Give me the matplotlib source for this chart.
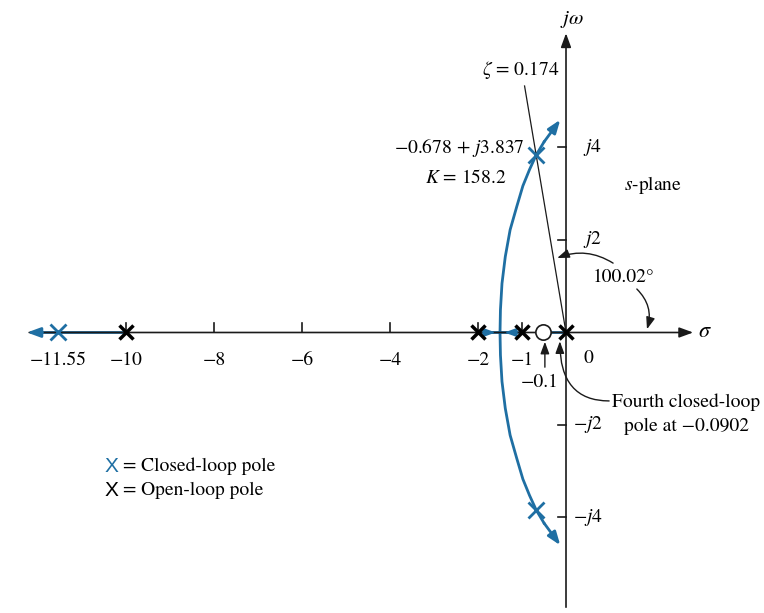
import numpy as np
import matplotlib.pyplot as plt

plt.rcParams['font.family'] = 'STIXGeneral'
plt.rcParams['mathtext.fontset'] = 'stix'
plt.rcParams['font.size'] = 14

BLUE = '#1f6fa3'
INK = '#1a1a1a'

# G(s) = K(s + 0.1) / [s(s + 1)(s + 2)(s + 10)]
open_loop_poles = [-10, -2, -1, 0]
open_loop_zero = -0.1
real_ticks = [-10, -8, -6, -4, -2, -1]
imag_ticks = [4, 2, -2, -4]

closed_loop_real = -11.55
closed_loop_sigma = -0.678
closed_loop_omega = 3.837
fourth_pole = -0.0902
gain = 158.2
zeta = 0.174
zeta_angle = 100.02
breakaway = -1.5

# upper complex branch, from the breakaway point towards the asymptote
branch_sigma = [-1.50, -1.49, -1.455, -1.38, -1.27, -1.12, -0.98, -0.83, -0.678, -0.50, -0.13]
branch_omega = [0.0, 0.49, 1.06, 1.64, 2.22, 2.72, 3.17, 3.52, 3.837, 4.12, 4.60]


def axis_pos(s):
    # widen the span between -1 and 0 so the zero and the pole at 0 do not overlap
    return np.interp(s, [-20, -1, -0.1, 0, 20], [-20, -1, -0.516, 0, 20])


def arrow(ax, tail, head, color=INK, lw=1.1, conn='arc3', head_len=0.6, head_w=0.22, scale=14):
    ax.annotate('', xy=head, xytext=tail,
                arrowprops=dict(arrowstyle=f'-|>,head_length={head_len},head_width={head_w}',
                                color=color, lw=lw, mutation_scale=scale,
                                shrinkA=0, shrinkB=0, connectionstyle=conn))


fig = plt.figure(figsize=(7.64, 6.13), dpi=100)
ax = fig.add_axes([0, 0, 1, 1])
ax.set_xlim(-12.864, 4.5)
ax.set_ylim(-6.065, 7.189)
ax.axis('off')

# s-plane axes
arrow(ax, (-12.2, 0), (2.89, 0), lw=1.2)
arrow(ax, (0, -5.94), (0, 6.47), lw=1.2)

for t in real_ticks:
    ax.plot([t, t], [0, 0.2], color=INK, lw=1.2)
    ax.text(t, -0.6, f'\u2212{abs(t)}', ha='center', va='center')
ax.text(0.5, -0.55, '0', ha='center', va='center')
ax.text(closed_loop_real, -0.6, f'\u2212{abs(closed_loop_real)}', ha='center', va='center')

for w in imag_ticks:
    ax.plot([-0.18, 0], [w, w], color=INK, lw=1.2)
    if w > 0:
        ax.text(0.38, w, f'$j{w}$', ha='left', va='center')
    else:
        ax.text(0.17, w, f'$-j{abs(w)}$', ha='left', va='center')

ax.text(0.14, 6.76, r'$j\omega$', ha='center', va='center', fontsize=15)
ax.text(3.16, 0.0, r'$\sigma$', ha='center', va='center', fontsize=16)
ax.text(1.98, 3.19, r'$s$-plane', ha='center', va='center')

# real-axis segments of the locus
lw_locus = 2.0
ax.plot([-10, -12.0], [0, 0], color=BLUE, lw=lw_locus)
arrow(ax, (-11.9, 0), (-12.25, 0), color=BLUE, lw=lw_locus, scale=13)
ax.plot([-2, -1], [0, 0], color=BLUE, lw=lw_locus)
arrow(ax, (-1.85, 0), (breakaway - 0.1, 0), color=BLUE, lw=1.5, scale=11)
arrow(ax, (-1.15, 0), (breakaway + 0.1, 0), color=BLUE, lw=1.5, scale=11)
ax.plot([axis_pos(open_loop_zero), 0], [0, 0], color=BLUE, lw=lw_locus)

# complex branches (lower one mirrored)
bs = np.array(branch_sigma)
bw = np.array(branch_omega)
for sign in (1, -1):
    ax.plot(bs[:-1], sign * bw[:-1], color=BLUE, lw=lw_locus)
    arrow(ax, (bs[-2], sign * bw[-2]), (bs[-1], sign * bw[-1]), color=BLUE, lw=lw_locus, scale=13)

# damping ratio line through the complex closed-loop pole
theta = np.deg2rad(zeta_angle)
r = 5.33 / np.sin(theta)
ax.plot([0, r * np.cos(theta)], [0, r * np.sin(theta)], color=INK, lw=0.9)
ax.text(-1.03, 5.68, rf'$\zeta$ = {zeta}', ha='center', va='center')

# poles and zero
ax.plot(axis_pos(np.array(open_loop_poles, dtype=float)), np.zeros(len(open_loop_poles)),
        'x', color='k', ms=10, mew=2.5, zorder=6)
ax.plot(axis_pos(open_loop_zero), 0, 'o', mfc='white', mec=INK, ms=11, mew=1.2, zorder=6)
ax.plot([closed_loop_real, closed_loop_sigma, closed_loop_sigma],
        [0, closed_loop_omega, -closed_loop_omega],
        'x', color=BLUE, ms=11, mew=2.0, zorder=6)

ax.text(-0.93, 3.99, f'\u2212{abs(closed_loop_sigma)} + $j${closed_loop_omega}', ha='right', va='center')
ax.text(-1.36, 3.34, f'$K$ = {gain}', ha='right', va='center')

# angle of the damping line
arrow(ax, (1.07, 1.50), (-0.2, 1.61), lw=1.0, conn='arc3,rad=0.25', scale=12)
arrow(ax, (1.61, 0.94), (1.84, 0.07), lw=1.0, conn='arc3,rad=-0.3', scale=12)
ax.text(1.32, 1.18, f'{zeta_angle}\u00b0', ha='center', va='center')

# zero label
arrow(ax, (-0.48, -0.75), (-0.48, -0.2), lw=1.0, scale=12)
ax.text(-0.61, -1.09, f'\u2212{abs(open_loop_zero)}', ha='center', va='center')

# fourth closed-loop pole note
arrow(ax, (0.98, -1.48), (-0.14, -0.19), lw=1.0, conn='angle3,angleA=0,angleB=90', scale=12)
ax.text(2.73, -1.50, 'Fourth closed-loop', ha='center', va='center')
ax.text(2.73, -2.04, f'pole at \u2212{abs(fourth_pole)}', ha='center', va='center')

# key
ax.text(-10.32, -2.89, 'X', color=BLUE, family='Liberation Sans', fontsize=15, ha='center', va='center')
ax.text(-10.07, -2.89, '= Closed-loop pole', ha='left', va='center')
ax.text(-10.32, -3.41, 'X', color='k', family='Liberation Sans', fontsize=15, ha='center', va='center')
ax.text(-10.07, -3.41, '= Open-loop pole', ha='left', va='center')

fig.savefig('out.png', dpi=100)
